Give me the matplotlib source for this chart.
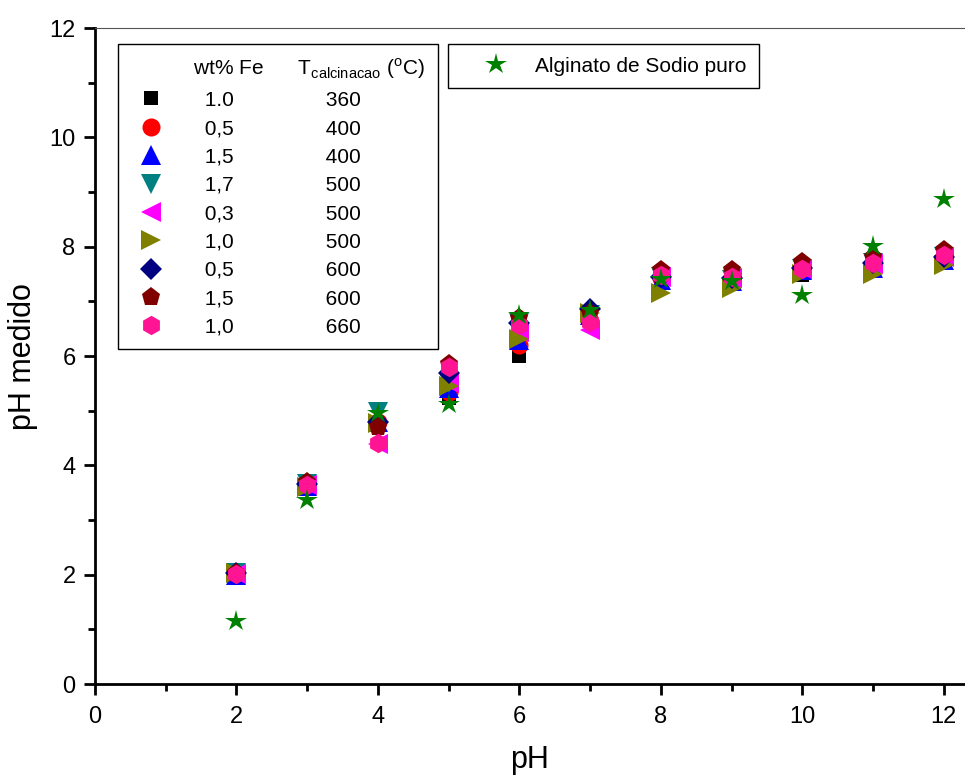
import matplotlib
matplotlib.use("Agg")
import matplotlib.pyplot as plt
from matplotlib.lines import Line2D

plt.rcParams['font.family'] = ['Liberation Sans', 'DejaVu Sans']
plt.rcParams['mathtext.fontset'] = 'custom'
plt.rcParams['mathtext.rm'] = 'Liberation Sans'

ph = [2, 3, 4, 5, 6, 7, 8, 9, 10, 11, 12]

wt_fe = ["1.0", "0,5", "1,5", "1,7", "0,3", "1,0", "0,5", "1,5", "1,0"]
t_calc = ["360", "400", "400", "500", "500", "500", "600", "600", "660"]
markers = ["s", "o", "^", "v", "<", ">", "D", "p", "h"]
colors = ["#000000", "#ff0000", "#0000ff", "#008080", "#ff00ff", "#808000",
          "#000080", "#800000", "#ff1493"]

series = [
    [2.02, 3.65, 4.75, 5.23, 6.00, 6.70, 7.40, 7.35, 7.48, 7.62, 7.80],  # 1.0 / 360
    [2.02, 3.65, 4.80, 5.34, 6.20, 6.65, 7.42, 7.40, 7.58, 7.68, 7.80],  # 0,5 / 400
    [2.00, 3.62, 4.80, 5.41, 6.30, 6.75, 7.40, 7.38, 7.58, 7.62, 7.75],  # 1,5 / 400
    [2.03, 3.66, 4.97, 5.50, 6.60, 6.75, 7.45, 7.40, 7.60, 7.70, 7.82],  # 1,7 / 500
    [2.02, 3.64, 4.40, 5.50, 6.44, 6.47, 7.45, 7.42, 7.60, 7.68, 7.82],  # 0,3 / 500
    [2.03, 3.60, 4.77, 5.45, 6.31, 6.78, 7.15, 7.24, 7.51, 7.51, 7.66],  # 1,0 / 500
    [2.03, 3.66, 4.80, 5.69, 6.60, 6.87, 7.45, 7.42, 7.62, 7.70, 7.82],  # 0,5 / 600
    [2.04, 3.70, 4.70, 5.85, 6.70, 6.78, 7.58, 7.58, 7.72, 7.82, 7.95],  # 1,5 / 600
    [2.02, 3.65, 4.41, 5.80, 6.57, 6.62, 7.48, 7.45, 7.60, 7.70, 7.85],  # 1,0 / 660
]

alginato = [1.15, 3.37, 4.96, 5.12, 6.75, 6.84, 7.41, 7.37, 7.12, 8.01, 8.87]
alginato_label = "Alginato de Sodio puro"

fig = plt.figure(figsize=(9.65, 7.78), dpi=100)
ax = fig.add_axes([0.0984, 0.1208, 0.9016, 0.843])

sizes = {"s": 10.5, "o": 13, "^": 14, "v": 14, "<": 14, ">": 14, "D": 11.5,
         "p": 14, "h": 14}
handles = []
for y, m, c in zip(series, markers, colors):
    h, = ax.plot(ph, y, linestyle="none", marker=m, color=c,
                 markersize=sizes[m], markeredgewidth=0)
    handles.append(h)

hs, = ax.plot(ph, alginato, linestyle="none", marker="*", color="#008000",
              markersize=16, markeredgewidth=0)

ax.set_xlim(0, 12.3)
ax.set_ylim(0, 12)
ax.set_xticks(range(0, 13, 2))
ax.set_xticks(range(1, 13, 2), minor=True)
ax.set_yticks(range(0, 13, 2))
ax.set_yticks(range(1, 13, 2), minor=True)
ax.tick_params(axis="both", which="major", direction="out", length=8, width=2,
               labelsize=17)
ax.tick_params(axis="x", which="major", pad=8)
ax.tick_params(axis="y", which="major", pad=6)
ax.tick_params(axis="both", which="minor", direction="out", length=5, width=2)
ax.tick_params(top=False, right=False)
ax.spines["left"].set_linewidth(2)
ax.spines["bottom"].set_linewidth(2)
ax.spines["top"].set_linewidth(0.8)
ax.spines["top"].set_color("#555555")
ax.spines["right"].set_visible(False)

ax.set_xlabel("pH", fontsize=22, labelpad=12)
ax.set_ylabel("pH medido", fontsize=22, labelpad=8)

# Legend with two text columns (wt% Fe, T)
header = Line2D([], [], linestyle="none")
labels = ["   wt% Fe      T$_\\mathregular{calcinacao}$ ($^\\mathregular{o}$C)"]
for w, t in zip(wt_fe, t_calc):
    labels.append(f"     {w}" + " " * 16 + t)
leg1 = ax.legend([header] + handles, labels, loc="upper left",
                 bbox_to_anchor=(0.0264, 0.9756), fontsize=15, frameon=True,
                 fancybox=False, edgecolor="black", framealpha=1,
                 labelspacing=0.45, handletextpad=0.2, borderpad=0.6,
                 handlelength=2.0, borderaxespad=0)
leg1.get_frame().set_linewidth(1.0)
ax.add_artist(leg1)

leg2 = ax.legend([hs], [alginato_label], loc="upper left",
                 bbox_to_anchor=(0.4057, 0.9756), fontsize=15, frameon=True,
                 fancybox=False, edgecolor="black", framealpha=1,
                 handletextpad=0.2, borderpad=0.6, borderaxespad=0,
                 handlelength=3.4)
leg2.get_frame().set_linewidth(1.0)

fig.savefig("out.png", dpi=100)
